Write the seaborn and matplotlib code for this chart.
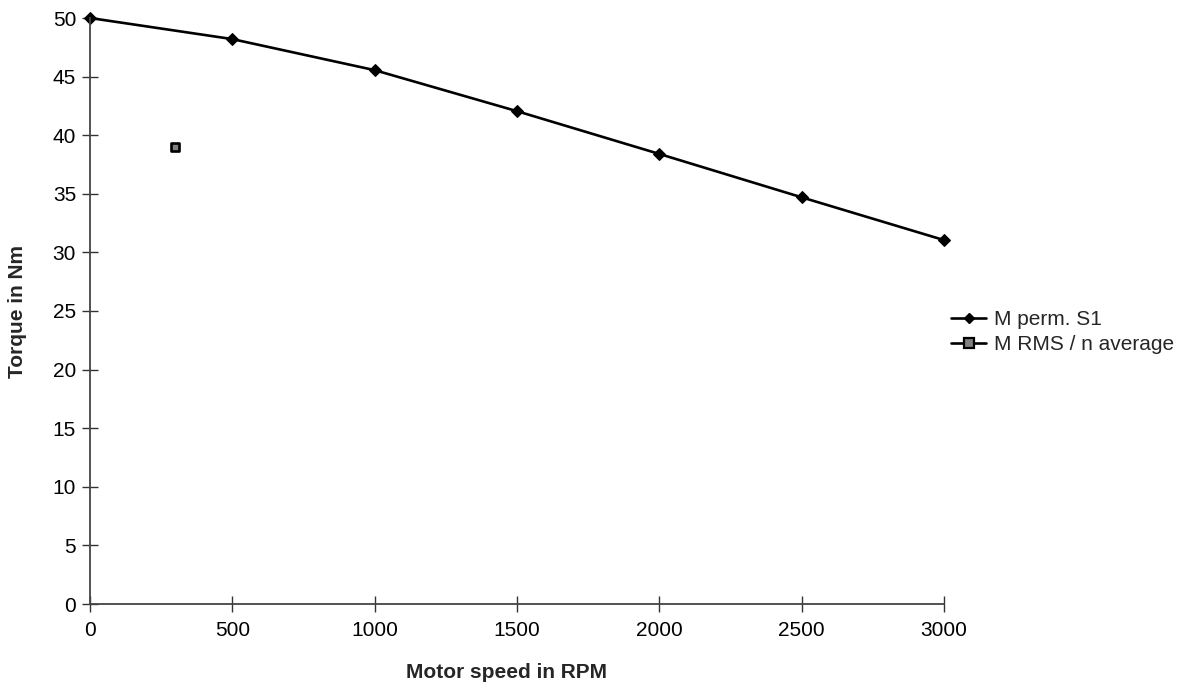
import matplotlib
matplotlib.use("Agg")
import matplotlib.pyplot as plt
import seaborn as sns
import pandas as pd
from matplotlib.lines import Line2D

speed = [0, 500, 1000, 1500, 2000, 2500, 3000]
torque_s1 = [50.0, 48.2, 45.55, 42.05, 38.4, 34.7, 31.05]
rms_speed = [300]
rms_torque = [39.0]
xticks = [0, 500, 1000, 1500, 2000, 2500, 3000]
yticks = list(range(0, 51, 5))

sns.set_style("white")
plt.rcParams['font.family'] = ['Liberation Sans', 'DejaVu Sans']

fig = plt.figure(figsize=(11.87, 6.89), dpi=100)
ax = fig.add_axes([90/1187, 1-604/689, (944-90)/1187, (604-18)/689])

df1 = pd.DataFrame({"x": speed, "y": torque_s1})
df2 = pd.DataFrame({"x": rms_speed, "y": rms_torque})
sns.lineplot(data=df1, x="x", y="y", ax=ax, color="black", lw=1.9, marker="D",
             markersize=6, markeredgecolor="black", label="M perm. S1")
sns.scatterplot(data=df2, x="x", y="y", ax=ax, marker="s", s=40, color="#808080",
                edgecolor="black", linewidth=1.9, label="M RMS / n average", zorder=5)

ax.set_xlim(0, 3000)
ax.set_ylim(0, 50)
ax.set_xticks(xticks)
ax.set_yticks(yticks)
ax.tick_params(axis="both", direction="inout", length=12, width=1, color="#333333",
               labelsize=15, labelcolor="black", bottom=True, left=True)
ax.tick_params(axis="x", pad=6)
ax.tick_params(axis="y", pad=4)
for s in ["top", "right"]:
    ax.spines[s].set_visible(False)
for s in ["left", "bottom"]:
    ax.spines[s].set_color("#444444")
    ax.spines[s].set_linewidth(1.3)
ax.set_xlabel("")
ax.set_ylabel("")
for c in ax.get_children():
    try:
        c.set_clip_on(False)
    except Exception:
        pass

fig.text(507/1187, 1-673/689, "Motor speed in RPM", ha="center", va="center",
         fontsize=15, fontweight="bold")
fig.text(18/1187, 1-312/689, "Torque in Nm", ha="center", va="center",
         rotation=90, fontsize=15, fontweight="bold")

h1 = Line2D([], [], color="black", lw=1.9, marker="D", markersize=5.5)
h2 = Line2D([], [], color="black", lw=1.9, marker="s", markersize=6.5,
            markerfacecolor="#808080", markeredgecolor="black", markeredgewidth=1.6)
ax.legend([h1, h2], ["M perm. S1", "M RMS / n average"], loc="center left",
          bbox_to_anchor=(951/1187, 1-332/689), bbox_transform=fig.transFigure,
          frameon=False, fontsize=15, handlelength=1.7, handletextpad=0.35,
          labelspacing=0.3, borderaxespad=0, borderpad=0)

fig.savefig("out.png", dpi=100)
